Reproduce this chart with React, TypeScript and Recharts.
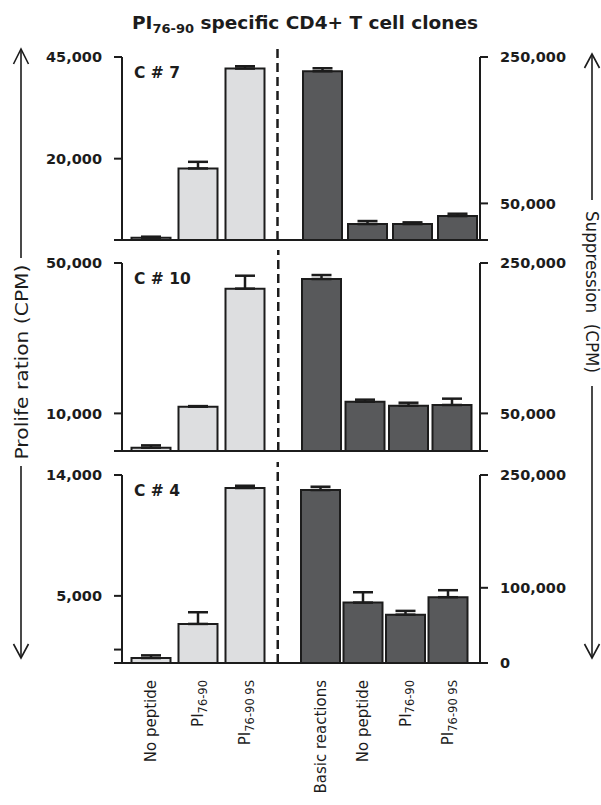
import React from 'react';
import { BarChart, Bar, XAxis, YAxis, ErrorBar, ReferenceLine } from 'recharts';

// ---------- data ----------
const leftCategories = ['No peptide', 'PI76-90', 'PI76-90 9S'];
const rightCategories = ['Basic reactions', 'No peptide', 'PI76-90', 'PI76-90 9S'];
const SPACER = ' ';

const clone7Prolif = [565, 17600, 42150];
const clone7ProlifErr = [250, 1620, 570];
const clone7Supp = [230500, 21800, 21800, 32700];
const clone7SuppErr = [4100, 4100, 2300, 3200];
const clone7LeftTicks = [0, 20000, 45000];
const clone7RightTicks = [0, 50000, 250000];

const clone10Prolif = [880, 11790, 43180];
const clone10ProlifErr = [620, 150, 3440];
const clone10Supp = [228700, 65600, 60200, 61200];
const clone10SuppErr = [5300, 2700, 4000, 8400];
const clone10LeftTicks = [0, 10000, 50000];
const clone10RightTicks = [0, 50000, 250000];

const clone4Prolif = [370, 2910, 13030];
const clone4ProlifErr = [200, 870, 170];
const clone4Supp = [230000, 80300, 64300, 87500];
const clone4SuppErr = [4400, 13800, 5000, 9300];
const clone4LeftTicks = [0, 1000, 5000, 14000];
const clone4RightTicks = [0, 100000, 250000];

// ---------- style / layout ----------
const INK = '#1c1c1c';
const LIGHT = '#dddee0';
const DARK = '#58595b';
const FONT = "'DejaVu Sans', sans-serif";
const W = 601;
const H = 805;
const MT = 20;
const PLOT_LEFT = 122;
const PLOT_RIGHT_W = 121;

const panels = [
  {
    name: 'C # 7', prolif: clone7Prolif, prolifErr: clone7ProlifErr, supp: clone7Supp, suppErr: clone7SuppErr,
    leftTicks: clone7LeftTicks, leftLabeled: [20000, 45000], leftMax: 45000,
    rightTicks: clone7RightTicks, rightLabeled: [50000, 250000], rightMax: 250000,
    top: 57, plotH: 183, rightPadL: 133, rightPadR: 0, bottom: false,
  },
  {
    name: 'C # 10', prolif: clone10Prolif, prolifErr: clone10ProlifErr, supp: clone10Supp, suppErr: clone10SuppErr,
    leftTicks: clone10LeftTicks, leftLabeled: [10000, 50000], leftMax: 50000,
    rightTicks: clone10RightTicks, rightLabeled: [50000, 250000], rightMax: 250000,
    top: 263, plotH: 188, rightPadL: 134.5, rightPadR: 6, bottom: false,
  },
  {
    name: 'C # 4', prolif: clone4Prolif, prolifErr: clone4ProlifErr, supp: clone4Supp, suppErr: clone4SuppErr,
    leftTicks: clone4LeftTicks, leftLabeled: [5000, 14000], leftMax: 14000,
    rightTicks: clone4RightTicks, rightLabeled: [0, 100000, 250000], rightMax: 250000,
    top: 475, plotH: 188, rightPadL: 134.5, rightPadR: 11, bottom: true,
  },
];

const fmt = (v: number) => v.toLocaleString('en-US');

function XTick(props: any) {
  const { x, y, payload } = props;
  const text: string = String(payload.value);
  if (!text.trim()) return null;
  const m = /^PI(.+)$/.exec(text);
  return (
    <g transform={`translate(${x},${y})`}>
      <text transform="rotate(-90)" x={-17} y={0} dy="0.36em" textAnchor="end" fontFamily={FONT} fontSize={15} fill={INK}>
        {m
          ? [<tspan key="a">PI</tspan>, <tspan key="b" fontSize={11.5} dy="0.32em">{m[1]}</tspan>]
          : text}
      </text>
    </g>
  );
}

const tickStyle = { fontFamily: FONT, fontWeight: 'bold', fontSize: 14.5, fill: INK };

function Panel({ p }: { p: (typeof panels)[number] }) {
  const xAxisH = p.bottom ? H - (p.top + p.plotH) : 2;
  const height = MT + p.plotH + xAxisH;
  const leftData = leftCategories.map((c, i) => ({ cat: c, value: p.prolif[i], err: [0, p.prolifErr[i]] }));
  const rightData: any[] = [
    { cat: SPACER },
    ...rightCategories.map((c, i) => ({ cat: c, value: p.supp[i], err: [0, p.suppErr[i]] })),
  ];
  const extTop = p.rightMax * (1 + 13 / p.plotH);
  return (
    <>
      <div style={{ position: 'absolute', left: 0, top: p.top - MT }}>
        <BarChart width={W} height={height} data={leftData} margin={{ top: MT, right: PLOT_RIGHT_W, bottom: 0, left: 0 }}>
          <XAxis
            dataKey="cat"
            type="category"
            padding={{ left: 5.5, right: 211.5 }}
            axisLine={{ stroke: INK, strokeWidth: 2 }}
            tickLine={false}
            tickSize={0}
            tickMargin={0}
            interval={0}
            height={xAxisH}
            tick={p.bottom ? <XTick /> : false}
          />
          <YAxis
            orientation="left"
            width={PLOT_LEFT}
            domain={[0, p.leftMax]}
            ticks={p.leftTicks}
            interval={0}
            allowDataOverflow
            tickFormatter={(v: number) => (p.leftLabeled.includes(v) ? fmt(v) : '')}
            axisLine={{ stroke: INK, strokeWidth: 2 }}
            tickLine={{ stroke: INK, strokeWidth: 2 }}
            tickSize={8}
            tickMargin={12}
            tick={tickStyle}
          />
          <Bar dataKey="value" fill={LIGHT} stroke={INK} strokeWidth={2} barSize={39} isAnimationActive={false}>
            <ErrorBar dataKey="err" direction="y" width={10} stroke={INK} strokeWidth={2.5} />
          </Bar>
        </BarChart>
      </div>
      <div style={{ position: 'absolute', left: 0, top: p.top - MT }}>
        <BarChart width={W} height={height} data={rightData} margin={{ top: MT, right: 0, bottom: 0, left: PLOT_LEFT }}>
          <XAxis
            dataKey="cat"
            type="category"
            padding={{ left: p.rightPadL, right: p.rightPadR }}
            axisLine={{ stroke: INK, strokeWidth: 2 }}
            tickLine={false}
            tickSize={0}
            tickMargin={0}
            interval={0}
            height={xAxisH}
            tick={p.bottom ? <XTick /> : false}
          />
          <YAxis
            orientation="right"
            width={PLOT_RIGHT_W}
            domain={[0, p.rightMax]}
            ticks={p.rightTicks}
            interval={0}
            allowDataOverflow
            tickFormatter={(v: number) => (p.rightLabeled.includes(v) ? fmt(v) : '')}
            axisLine={{ stroke: INK, strokeWidth: 2 }}
            tickLine={{ stroke: INK, strokeWidth: 2 }}
            tickSize={8}
            tickMargin={12}
            tick={tickStyle}
          />
          <Bar dataKey="value" fill={DARK} stroke={INK} strokeWidth={2} barSize={39} isAnimationActive={false}>
            <ErrorBar dataKey="err" direction="y" width={10} stroke={INK} strokeWidth={2.5} />
          </Bar>
          <ReferenceLine
            segment={[{ x: SPACER, y: 0 }, { x: SPACER, y: extTop }]}
            ifOverflow="visible"
            stroke={INK}
            strokeWidth={2.5}
            strokeDasharray="9 5"
          />
        </BarChart>
      </div>
    </>
  );
}

export default function App() {
  return (
    <div style={{ position: 'absolute', left: 0, top: 0, width: W, height: H, overflow: 'hidden', background: '#fff' }}>
      {panels.map((p) => (
        <Panel key={p.name} p={p} />
      ))}
      <svg width={W} height={H} style={{ position: 'absolute', left: 0, top: 0, pointerEvents: 'none' }}>
        <text x={305} y={29} textAnchor="middle" fontFamily={FONT} fontWeight="bold" fontSize={18.5} fill={INK}>
          PI<tspan fontSize={13} dy={4}>76-90</tspan>
          <tspan dy={-4}> specific CD4+ T cell clones</tspan>
        </text>
        {panels.map((p) => (
          <text key={p.name} x={134} y={p.top + 21} fontFamily={FONT} fontWeight="bold" fontSize={15.5} fill={INK}>
            {p.name}
          </text>
        ))}
        {/* left outer axis */}
        <g stroke={INK} strokeWidth={1.6} fill="none">
          <line x1={21} y1={49} x2={21} y2={258} />
          <polyline points="13.5,64 21,49 28.5,64" />
          <line x1={21} y1={466} x2={21} y2={658} />
          <polyline points="13.5,644 21,658 28.5,644" />
        </g>
        <text
          transform="translate(21,362) rotate(-90)"
          textAnchor="middle"
          dominantBaseline="central"
          fontFamily={FONT}
          fontSize={18}
          fill={INK}
          textLength={195}
          lengthAdjust="spacingAndGlyphs"
        >
          Prolife ration (CPM)
        </text>
        {/* right outer axis */}
        <g stroke={INK} strokeWidth={1.6} fill="none">
          <line x1={592} y1={54} x2={592} y2={200} />
          <polyline points="584.5,68 592,54 599.5,68" />
          <line x1={592} y1={386} x2={592} y2={658} />
          <polyline points="584.5,644 592,658 599.5,644" />
        </g>
        <text
          transform="translate(592,292) rotate(90)"
          textAnchor="middle"
          dominantBaseline="central"
          fontFamily={FONT}
          fontSize={18}
          fill={INK}
          textLength={162}
          lengthAdjust="spacingAndGlyphs"
        >
          {'Suppression\u00a0 (CPM)'}
        </text>
      </svg>
    </div>
  );
}
